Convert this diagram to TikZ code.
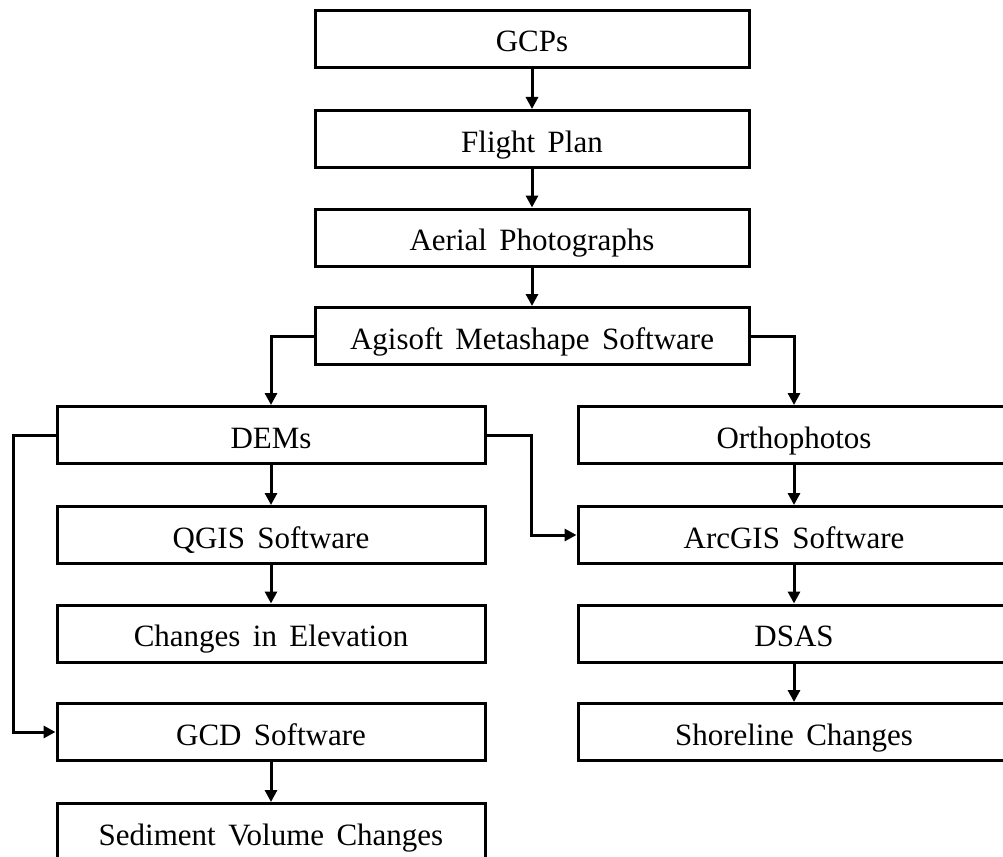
\documentclass[tikz,border=0pt]{standalone}
\usepackage{fontspec}
\setmainfont[WordSpace=1.6]{Liberation Serif}
\usetikzlibrary{arrows.meta}
\begin{document}
\begin{tikzpicture}[x=1pt,y=-1pt,
  box/.style={draw, line width=3pt, inner sep=0pt, minimum height=57pt,
    text height=26pt, text depth=0pt, font=\fontsize{31}{36}\selectfont},
  topbox/.style={box, minimum width=434pt},
  leftbox/.style={box, minimum width=428pt},
  rightbox/.style={box, minimum width=432pt},
  arr/.style={line width=3pt, -{Triangle[length=12pt,width=12pt]}}]
\useasboundingbox (0,0) rectangle (1003,856);
\clip (0,0) rectangle (1003,856);
\fill[white] (0,0) rectangle (1003,856);
\node[topbox] (gcp) at (532,39) {GCPs};
\node[topbox] (fp) at (532,139) {Flight Plan};
\node[topbox] (ap) at (532,237.5) {Aerial Photographs};
\node[topbox] (agi) at (532,336) {Agisoft Metashape Software};
\node[leftbox] (dem) at (271,435) {DEMs};
\node[leftbox] (qgis) at (271,535) {QGIS Software};
\node[leftbox] (cie) at (271,633.5) {Changes in Elevation};
\node[leftbox] (gcd) at (271,732) {GCD Software};
\node[leftbox] (sed) at (271,832) {Sediment Volume Changes};
\node[rightbox] (ort) at (794,435) {Orthophotos};
\node[rightbox] (arc) at (794,535) {ArcGIS Software};
\node[rightbox] (dsas) at (794,633.5) {DSAS};
\node[rightbox] (shore) at (794,732) {Shoreline Changes};
\draw[arr] (gcp) -- (fp);
\draw[arr] (fp) -- (ap);
\draw[arr] (ap) -- (agi);
\draw[arr] (agi.west) -| (dem.north);
\draw[arr] (agi.east) -| (ort.north);
\draw[arr] (dem) -- (qgis);
\draw[arr] (qgis) -- (cie);
\draw[arr] (gcd) -- (sed);
\draw[arr] (ort) -- (arc);
\draw[arr] (arc) -- (dsas);
\draw[arr] (dsas) -- (shore);
\draw[arr] (dem.east) -- ++(45,0) |- (arc.west);
\draw[arr] (dem.west) -- ++(-42,0) |- (gcd.west);
\end{tikzpicture}
\end{document}
